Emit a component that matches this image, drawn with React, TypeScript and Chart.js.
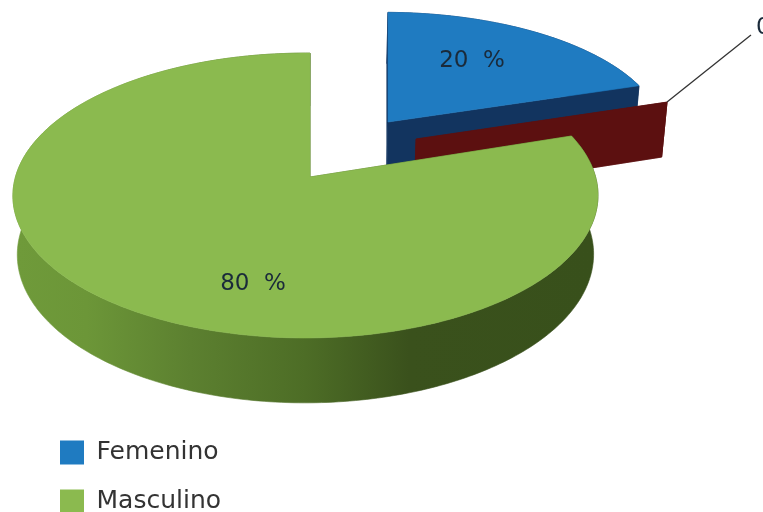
import React, { useEffect, useRef } from "react";
import { Chart, registerables } from "chart.js";

Chart.register(...registerables);

const categories = ["Femenino", "Otro", "Masculino"];
const shares = [20, 0, 80];
const legendCategories = ["Femenino", "Masculino"];
const topColors = ["#1f7bc1", "#5c1010", "#8bba4f"];
const sideColors = ["#12345f", "#5c1010", "#4d6d26"];

// Perspective of the pie's plane, applied to the angles Chart.js computes.
const view = { cx: 310, cy: 177, ax: 290, ay: 140, k: 0.13, m: 0.0154 };
// Pulled-out slices: shift and scale on the picture, around the pie's middle.
const lift = [
  { dx: 78, dy: -55, sx: 0.96, sy: 0.885 },
  { dx: 106, dy: -38, sx: 0.96, sy: 0.9 },
  { dx: 0, dy: 0, sx: 1, sy: 1 },
];
const labelSpots = [
  { x: 472, y: 61 },
  { x: 756, y: 28 },
  { x: 253, y: 284 },
];

function project(u: number, v: number, i: number, floor: boolean) {
  const w = 1 + view.k * v + view.m * u;
  const d = lift[i];
  let x = view.cx + d.dx + (d.sx * view.ax * u) / w;
  let y = view.cy + d.dy - (d.sy * view.ay * v) / w;
  if (floor) {
    x = 305 + (x - 305) * 0.985;
    y = 157 + (y - 102) * 1.042;
  }
  return { x, y };
}

const pie3d = {
  id: "pie3d",
  afterLayout(chart: any) {
    const l = chart.legend;
    l.left = 36;
    l.right = 340;
    l.top = 416;
    l.bottom = 560;
  },
  beforeDatasetsDraw(chart: any) {
    const ctx: CanvasRenderingContext2D = chart.ctx;
    const arcs = chart.getDatasetMeta(0).data;
    const poly = (pts: { x: number; y: number }[], fill: any) => {
      ctx.beginPath();
      pts.forEach((p, i) => (i ? ctx.lineTo(p.x, p.y) : ctx.moveTo(p.x, p.y)));
      ctx.closePath();
      ctx.fillStyle = fill;
      ctx.fill();
      ctx.strokeStyle = fill;
      ctx.lineWidth = 0.6;
      ctx.stroke();
    };
    const wallGradient = ctx.createLinearGradient(18, 0, 593, 0);
    wallGradient.addColorStop(0, "#6f9a3a");
    wallGradient.addColorStop(0.12, "#6c9638");
    wallGradient.addColorStop(0.3, "#5c8030");
    wallGradient.addColorStop(0.5, "#4d6d26");
    wallGradient.addColorStop(0.68, "#3a511c");
    wallGradient.addColorStop(1, "#38501b");

    arcs.forEach((arc: any, i: number) => {
      const a0 = arc.startAngle + Math.PI / 2;
      const a1 = arc.endAngle + Math.PI / 2;
      const steps = Math.max(1, Math.ceil(((a1 - a0) * 180) / Math.PI));
      const rim: { u: number; v: number }[] = [];
      for (let s = 0; s <= steps; s++) {
        const t = a0 + ((a1 - a0) * s) / steps;
        rim.push({ u: Math.sin(t), v: Math.cos(t) });
      }
      const top = rim.map((p) => project(p.u, p.v, i, false));
      const bottom = rim.map((p) => project(p.u, p.v, i, true));
      const apexTop = project(0, 0, i, false);
      const apexBottom = project(0, 0, i, true);
      const side = i === 2 ? wallGradient : sideColors[i];
      poly([...top, ...bottom.slice().reverse()], side);
      poly([apexTop, top[0], bottom[0], apexBottom], sideColors[i]);
      poly([apexTop, top[top.length - 1], bottom[bottom.length - 1], apexBottom], sideColors[i]);
      if (steps > 1) poly([apexTop, ...top], topColors[i]);
    });

    const a = arcs[1].startAngle + Math.PI / 2;
    const redOuter = project(Math.sin(a), Math.cos(a), 1, false);
    ctx.beginPath();
    ctx.moveTo(redOuter.x, redOuter.y);
    ctx.lineTo(751, 35);
    ctx.strokeStyle = "#333333";
    ctx.lineWidth = 1.3;
    ctx.stroke();

    ctx.font = '23px "DejaVu Sans"';
    ctx.fillStyle = "#1a2a3a";
    ctx.textBaseline = "middle";
    shares.forEach((v, i) => {
      const text = `${v}  %`;
      ctx.textAlign = i === 1 ? "left" : "center";
      ctx.fillText(text, labelSpots[i].x, labelSpots[i].y);
    });
    return false;
  },
};

export default function App() {
  const ref = useRef<HTMLCanvasElement>(null);
  useEffect(() => {
    const chart = new Chart(ref.current!, {
      type: "pie",
      data: {
        labels: categories,
        datasets: [{ data: shares, backgroundColor: topColors, borderWidth: 0 }],
      },
      options: {
        animation: false,
        responsive: false,
        plugins: {
          tooltip: { enabled: false },
          legend: {
            position: "left",
            align: "start",
            labels: {
              boxWidth: 24,
              boxHeight: 24,
              padding: 24,
              color: "#333333",
              font: { family: '"DejaVu Sans"', size: 25 },
              filter: (item: any) => legendCategories.includes(item.text),
            },
          },
        },
      },
      plugins: [pie3d],
    } as any);
    return () => chart.destroy();
  }, []);
  return (
    <div style={{ position: "absolute", left: 0, top: 0, width: 763, height: 512, background: "#fff" }}>
      <canvas ref={ref} width={763} height={512} style={{ display: "block" }} />
    </div>
  );
}
